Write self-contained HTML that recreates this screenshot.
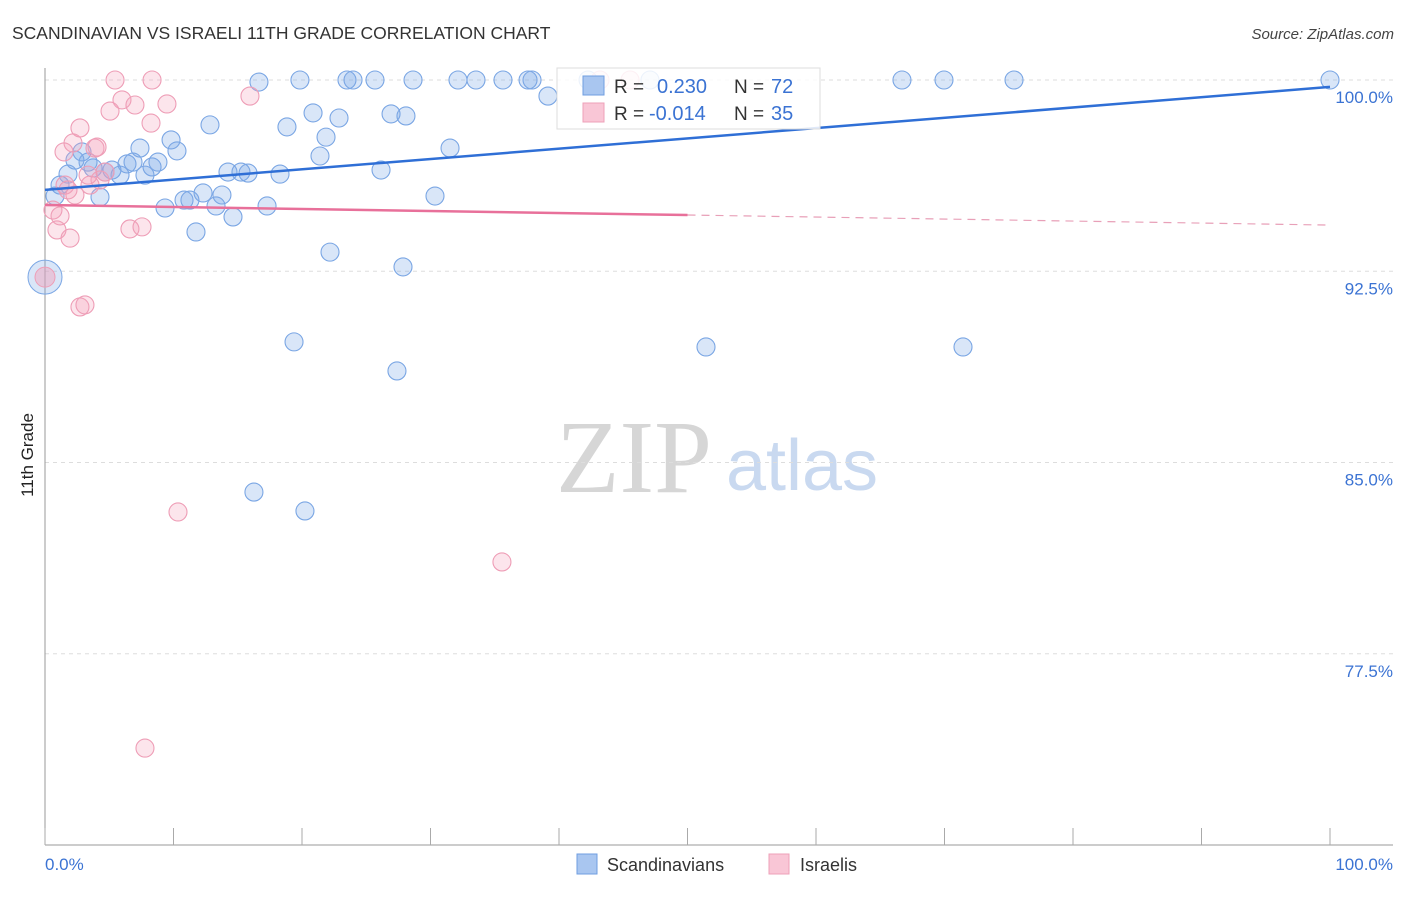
<!DOCTYPE html>
<html><head><meta charset="utf-8"><style>
body{margin:0;background:#fff;font-family:"Liberation Sans",sans-serif;}
</style></head><body>
<svg id="chart" width="1406" height="892" viewBox="0 0 1406 892" xmlns="http://www.w3.org/2000/svg" font-family="Liberation Sans, sans-serif">
<text x="12" y="39" font-size="17.5" fill="#333">SCANDINAVIAN VS ISRAELI 11TH GRADE CORRELATION CHART</text>
<text x="1394" y="39" font-size="15" fill="#444" text-anchor="end" font-style="italic">Source: ZipAtlas.com</text>
<text transform="translate(33,455) rotate(-90)" font-size="17" fill="#222" text-anchor="middle">11th Grade</text>
<g>
<text x="634" y="492" font-size="104" fill="#d6d6d6" text-anchor="middle" style="font-family:'Liberation Serif',serif">ZIP</text>
<text x="802" y="490" font-size="72" fill="#c9d9f0" text-anchor="middle">atlas</text>
</g>
<g id="grid"></g>
<g id="axes"></g>
<g id="marks"></g>
<g id="lines"></g>
<g>
<rect x="557" y="68" width="263" height="61" fill="#fff" fill-opacity="0.85" stroke="#ddd"/>
<rect x="583" y="76" width="21" height="19" fill="#a9c6f0" stroke="#6f9ee0"/>
<rect x="583" y="103" width="21" height="19" fill="#f9c6d6" stroke="#eea0b8"/>
<text x="614" y="93" font-size="19" fill="#333">R = </text>
<text x="657" y="93" font-size="20" fill="#3b73d3">0.230</text>
<text x="734" y="93" font-size="19" fill="#333">N = </text>
<text x="771" y="93" font-size="20" fill="#3b73d3">72</text>
<text x="614" y="120" font-size="19" fill="#333">R = </text>
<text x="649" y="120" font-size="20" fill="#3b73d3">-0.014</text>
<text x="734" y="120" font-size="19" fill="#333">N = </text>
<text x="771" y="120" font-size="20" fill="#3b73d3">35</text>
</g>
<g>
<rect x="577" y="854" width="20" height="20" fill="#a9c6f0" stroke="#6f9ee0"/>
<text x="607" y="871" font-size="18" fill="#333">Scandinavians</text>
<rect x="769" y="854" width="20" height="20" fill="#f9c6d6" stroke="#eea0b8"/>
<text x="800" y="871" font-size="18" fill="#333">Israelis</text>
</g>
</svg>
<script>
const blueX=[0.78,1.17,1.79,2.33,2.88,3.35,3.74,4.28,4.67,5.21,5.84,6.38,6.85,7.39,7.78,8.33,8.79,9.34,9.81,10.27,10.82,11.28,11.75,12.30,12.84,13.31,13.77,14.24,14.63,15.25,15.80,16.26,16.65,17.28,18.29,18.83,19.38,19.84,20.23,20.86,21.40,21.87,22.18,22.88,23.50,23.97,25.68,26.15,26.93,27.39,27.86,28.09,28.64,30.35,31.52,32.14,33.54,35.64,37.59,37.90,39.14,42.26,47.08,51.44,66.69,69.96,71.44,75.41,100];
const blueY=[95.45,95.88,96.31,96.86,97.18,96.78,96.55,95.41,96.39,96.47,96.27,96.71,96.78,97.33,96.27,96.59,96.78,94.98,97.65,97.22,95.29,95.29,94.04,95.57,98.24,95.06,95.49,96.39,94.63,96.39,96.35,83.84,99.92,95.06,96.31,98.16,89.73,100,83.10,98.71,97.02,97.76,93.25,98.51,100,100,100,96.47,98.67,88.59,92.67,98.59,100,95.45,97.33,100,100,100,100,100,99.37,100,100,89.53,100,100,89.53,100,100];
const pinkX=[0.62,0.93,1.17,1.56,1.95,2.18,2.72,1.48,3.50,3.89,4.28,4.67,5.06,5.45,5.99,6.61,7.00,7.55,7.78,8.25,8.33,9.49,10.35,15.95,35.56,2.72,3.11,43.19,45.53,4.05,3.35,1.79,2.33];
const pinkY=[94.90,94.12,94.67,95.88,93.80,97.53,98.12,97.18,95.88,97.33,96.08,96.39,98.78,100,99.22,94.16,99.02,94.24,73.80,98.31,100,99.06,83.06,99.37,81.10,91.10,91.18,100,100,97.37,96.27,95.69,95.49];
const bigX=[0,0];
const bigY=[92.27,92.27];
const yTicks=[100,92.5,85,77.5];
const yTickLabels=["100.0%","92.5%","85.0%","77.5%"];
const xTicks=[0,10,20,30,40,50,60,70,80,90,100];
const blueTrend=[95.69,99.73];
const pinkTrend=[95.10,94.31];
const pinkSolidEnd=50;

const X0=45,X1=1330,YT=80,PPU=25.5;
const sx=v=>X0+(X1-X0)*v/100;
const sy=v=>YT+(100-v)*PPU;
const NS="http://www.w3.org/2000/svg";
function mk(tag,parent,attrs){const e=document.createElementNS(NS,tag);for(const k in attrs)e.setAttribute(k,attrs[k]);parent.appendChild(e);return e;}
const grid=document.getElementById('grid'),axes=document.getElementById('axes'),marks=document.getElementById('marks'),lines=document.getElementById('lines');
yTicks.forEach((t,i)=>{
 const l=mk('line',grid,{x1:X0,x2:1393,y1:sy(t),y2:sy(t),stroke:'#ddd','stroke-dasharray':'4,4'});
 
 
 const tx=mk('text',axes,{x:1393,y:sy(t)+23,'font-size':17,fill:'#3b73d3','text-anchor':'end'});
 tx.textContent=yTickLabels[i];
 
 
});
const la=mk('line',axes,{x1:X0,x2:X0,y1:68,y2:845,stroke:'#999'});


const ba=mk('line',axes,{x1:X0,x2:1393,y1:845,y2:845,stroke:'#999'});


xTicks.forEach(t=>{
 const l=mk('line',axes,{x1:sx(t),x2:sx(t),y1:828,y2:845,stroke:'#aaa'});
 
 
});
const xl0=mk('text',axes,{x:45,y:870,'font-size':17,fill:'#3b73d3'});xl0.textContent=xTicks[0].toFixed(1)+'%';


const xl1=mk('text',axes,{x:1393,y:870,'font-size':17,fill:'#3b73d3','text-anchor':'end'});xl1.textContent=xTicks[xTicks.length-1].toFixed(1)+'%';


blueX.forEach((v,i)=>{
 const c=mk('circle',marks,{cx:sx(v),cy:sy(blueY[i]),r:9,fill:'rgba(120,165,230,0.28)',stroke:'#7aa6e4','stroke-width':1.1});
 
 
});
pinkX.forEach((v,i)=>{
 const c=mk('circle',marks,{cx:sx(v),cy:sy(pinkY[i]),r:9,fill:'rgba(245,160,185,0.28)',stroke:'#ee9db6','stroke-width':1.1});
 
 
});
const b1=mk('circle',marks,{cx:sx(bigX[0]),cy:sy(bigY[0]),r:17,fill:'rgba(120,165,230,0.28)',stroke:'#7aa6e4'});


const b2=mk('circle',marks,{cx:sx(bigX[1]),cy:sy(bigY[1]),r:10,fill:'rgba(245,160,185,0.45)',stroke:'#ee9db6'});


const bt=mk('line',lines,{x1:sx(0),y1:sy(blueTrend[0]),x2:sx(100),y2:sy(blueTrend[1]),stroke:'#2f6fd6','stroke-width':2.5});


const pm=pinkTrend[0]+(pinkTrend[1]-pinkTrend[0])*pinkSolidEnd/100;
const pt=mk('line',lines,{x1:sx(0),y1:sy(pinkTrend[0]),x2:sx(pinkSolidEnd),y2:sy(pm),stroke:'#e8709a','stroke-width':2.5});


const pd=mk('line',lines,{x1:sx(pinkSolidEnd),y1:sy(pm),x2:sx(100),y2:sy(pinkTrend[1]),stroke:'#e8a0b8','stroke-width':1.2,'stroke-dasharray':'8,6'});


</script>
</body></html>
